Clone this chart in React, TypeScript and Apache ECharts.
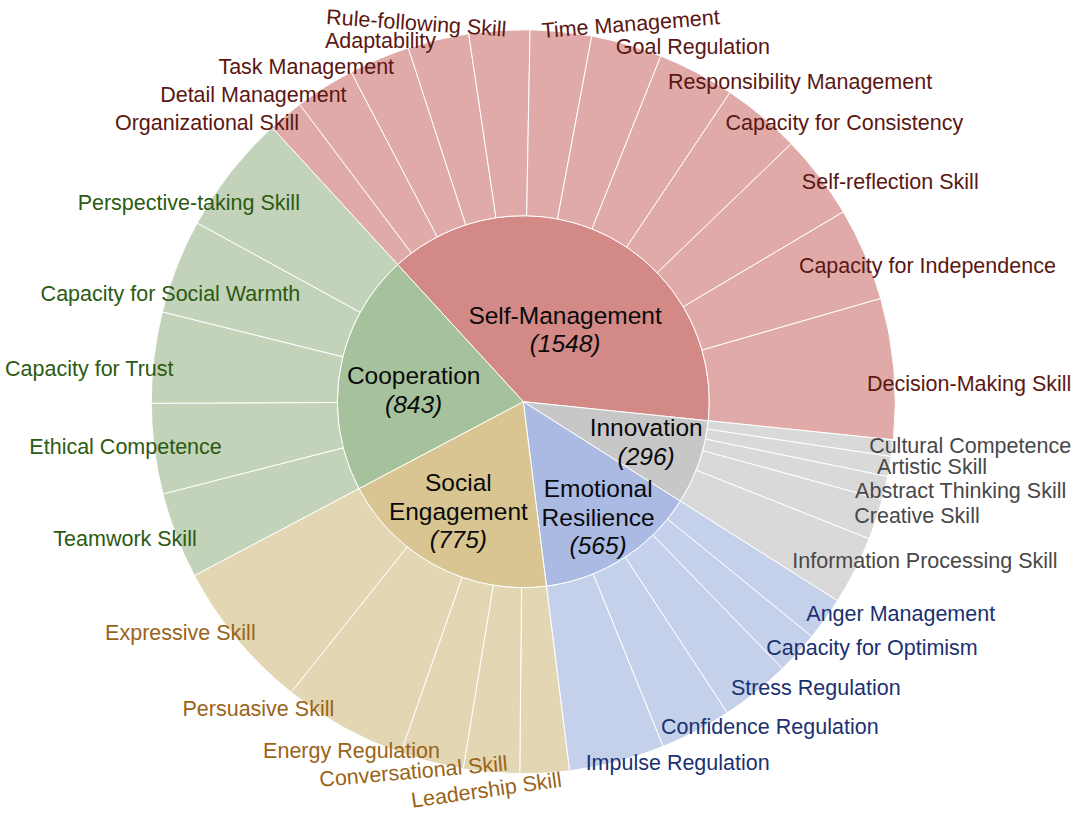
import React, { useEffect, useRef } from 'react';
import * as echarts from 'echarts';

// ---------- data ----------
const categories = ['Self-Management', 'Innovation', 'Emotional Resilience', 'Social Engagement', 'Cooperation'];

const selfManagementSkills = [
  'Organizational Skill', 'Detail Management', 'Task Management', 'Adaptability',
  'Rule-following Skill', 'Time Management', 'Goal Regulation', 'Responsibility Management',
  'Capacity for Consistency', 'Self-reflection Skill', 'Capacity for Independence', 'Decision-Making Skill',
];
const selfManagementValues = [62, 105, 107, 107, 106, 107, 124, 135, 138, 148, 163, 246];

const innovationSkills = ['Cultural Competence', 'Artistic Skill', 'Abstract Thinking Skill', 'Creative Skill', 'Information Processing Skill'];
const innovationValues = [29, 35, 41, 71, 120];

const emotionalResilienceSkills = ['Anger Management', 'Capacity for Optimism', 'Stress Regulation', 'Confidence Regulation', 'Impulse Regulation'];
const emotionalResilienceValues = [76, 75, 122, 125, 167];

const socialEngagementSkills = ['Leadership Skill', 'Conversational Skill', 'Energy Regulation', 'Persuasive Skill', 'Expressive Skill'];
const socialEngagementValues = [86, 98, 111, 217, 263];

const cooperationSkills = ['Teamwork Skill', 'Ethical Competence', 'Capacity for Trust', 'Capacity for Social Warmth', 'Perspective-taking Skill'];
const cooperationValues = [151, 158, 159, 165, 210];

const childNames = [selfManagementSkills, innovationSkills, emotionalResilienceSkills, socialEngagementSkills, cooperationSkills];
const childValues = [selfManagementValues, innovationValues, emotionalResilienceValues, socialEngagementValues, cooperationValues];

// ---------- styles ----------
const innerColors = ['#d38986', '#c8c7c7', '#abbae3', '#d8c592', '#a6c29c'];
const outerColors = ['#e0aaa9', '#d9d9d9', '#c5d1ea', '#e3d6b3', '#c2d3b9'];
const textColors = ['#5b1712', '#484848', '#1b3170', '#9a6418', '#2c5a13'];

const wrapNames: Record<string, string> = {
  'Social Engagement': 'Social\nEngagement',
  'Emotional Resilience': 'Emotional\nResilience',
};

// label placement shifts [dx, dy, rotate] applied to the library's default label position
const labelShift: Record<string, number[]> = {
  'Self-Management': [0, 11, 0],
  'Innovation': [35, 10, 0],
  'Emotional': [25, 37, 0],
  'Social': [-22, 27, 0],
  'Cooperation': [-18, 4, 0],
  'Organizational Skill': [-138, -64, 0],
  'Detail Management': [-121, -71, 0],
  'Task Management': [-109, -77, 0],
  'Adaptability': [-79, -89, 0],
  'Rule-following Skill': [-89, -100, -4],
  'Time Management': [79, -100, 4.5],
  'Goal Regulation': [92, -87, 0],
  'Responsibility Management': [147, -73, 0],
  'Capacity for Consistency': [142, -65, 0],
  'Self-reflection Skill': [145, -51, 0],
  'Capacity for Independence': [148, -25, 0],
  'Decision-Making Skill': [168, 7, 0],
  'Cultural Competence': [170, 9, 0],
  'Artistic Skill': [134, 17, 0],
  'Abstract Thinking Skill': [166, 24, 0],
  'Creative Skill': [129, 26, 0],
  'Information Processing Skill': [153, 33, 0],
  'Anger Management': [151, 49, 0],
  'Capacity for Optimism': [143, 58, 0],
  'Stress Regulation': [118, 69, 0],
  'Confidence Regulation': [117, 78, 0],
  'Impulse Regulation': [84, 91, 0],
  'Leadership Skill': [-53, 110, 8],
  'Conversational Skill': [-86, 92, 5],
  'Energy Regulation': [-103, 79, 0],
  'Persuasive Skill': [-130, 63, 0],
  'Expressive Skill': [-128, 53, 0],
  'Teamwork Skill': [-138, 37, 0],
  'Ethical Competence': [-121, 10, 0],
  'Capacity for Trust': [-157, 1, 0],
  'Capacity for Social Warmth': [-93, -6, 0],
  'Perspective-taking Skill': [-115, -26, 0],
};

const FONT = "'Liberation Sans', Arial, Helvetica, sans-serif";

export default function App() {
  const ref = useRef<HTMLDivElement>(null);

  useEffect(() => {
    if (!ref.current) return;
    const chart = echarts.init(ref.current, undefined, { renderer: 'svg' });

    const data = categories.map((cat, ci) => ({
      name: cat,
      itemStyle: { color: innerColors[ci] },
      children: childNames[ci].map((n, k) => ({
        name: n,
        value: childValues[ci][k],
        itemStyle: { color: outerColors[ci] },
        label: { color: textColors[ci] },
      })),
    }));

    chart.setOption({
      animation: false,
      series: [
        {
          type: 'sunburst',
          center: [523.3, 401.7],
          radius: [0, 372],
          startAngle: 132.5,
          clockwise: true,
          sort: null,
          nodeClick: false,
          emphasis: { focus: 'none' },
          itemStyle: { borderColor: '#ffffff', borderWidth: 1 },
          label: { rotate: 0, fontFamily: FONT },
          labelLayout: (params: any) => {
            const key = String(params.text || '').split('\n')[0];
            const s = labelShift[key];
            if (!s) return {};
            const r = params.labelRect;
            return {
              x: r.x + r.width / 2 + s[0],
              y: r.y + r.height / 2 + s[1],
              rotate: s[2] || 0,
              align: 'center',
              verticalAlign: 'middle',
            };
          },
          levels: [
            {},
            {
              r0: 0,
              r: 186,
              label: {
                show: true,
                position: 'inside',
                rotate: 0,
                align: 'center',
                color: '#0a0a0a',
                fontSize: 24.5,
                lineHeight: 28.5,
                fontFamily: FONT,
                formatter: (p: any) => `${wrapNames[p.name] || p.name}\n{v|(${p.value})}`,
                rich: {
                  v: { fontStyle: 'italic', fontSize: 24.5, lineHeight: 28.5, color: '#0a0a0a', fontFamily: FONT },
                },
              },
            },
            {
              r0: 186,
              r: 372,
              label: {
                show: true,
                position: 'inside',
                rotate: 0,
                align: 'center',
                fontSize: 21.5,
                lineHeight: 17,
                fontFamily: FONT,
              },
            },
          ],
          data,
        },
      ],
    });

    return () => chart.dispose();
  }, []);

  return (
    <div
      ref={ref}
      style={{ position: 'fixed', left: 0, top: 0, width: 1079, height: 816, background: '#ffffff' }}
    />
  );
}
